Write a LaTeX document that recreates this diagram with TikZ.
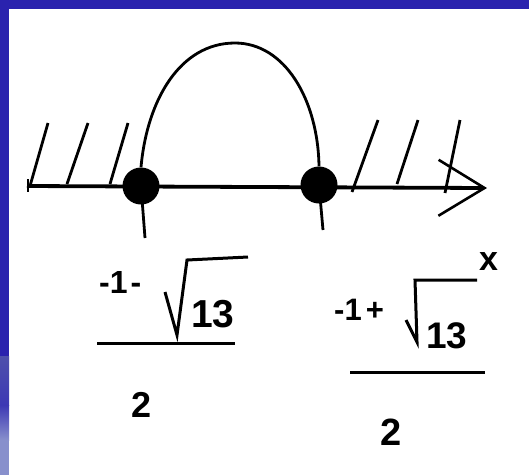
\documentclass[tikz,border=0pt]{standalone}
\usepackage{fontspec}
\setmainfont{Liberation Sans}
\usetikzlibrary{arrows.meta}
\definecolor{frameblue}{RGB}{42,34,174}
\definecolor{framelight}{RGB}{136,144,204}
\definecolor{framemid}{RGB}{78,80,172}
\newcommand{\fsz}[1]{\fontsize{#1}{#1}\selectfont\bfseries}
\tikzset{
	hatch/.style={line width=2.8pt},
	root/.style={circle, fill, inner sep=0pt, minimum size=37pt},
	numtext/.style={inner sep=0pt, anchor=base west},
}

\begin{document}
\begin{tikzpicture}[x=1pt, y=-1pt]
	\useasboundingbox (0,0) rectangle (529,475);
	\fill[white] (0,0) rectangle (529,475);
	\fill[frameblue] (0,0) rectangle (529,9);
	\fill[frameblue] (0,0) rectangle (9,356);
	\shade[top color=framemid, bottom color=frameblue!80!framelight] (0,356) rectangle (9,405);
	\shade[top color=frameblue!80!framelight, bottom color=framelight] (0,405) rectangle (9,440);
	\fill[framelight] (0,440) rectangle (9,475);
	% axis
	\coordinate (axstart) at (27,186);
	\coordinate (axend) at (487,188);
	\draw[line width=3.8pt, -{Straight Barb[line width=2.6pt, length=46pt, width=56pt]}] (axstart) -- (axend);
	\draw[line width=2.5pt] (28,179) -- (28,192);
	\foreach \xa/\ya/\xb/\yb in {30/186/48/123, 67/184/88/123, 110/184/128/123, 352/192/378/120, 397/184/418/120, 445/193/460/120}
		\draw[hatch] (\xa,\ya) -- (\xb,\yb);
	% roots
	\node[root] (lroot) at (141,186) {};
	\node[root] (rroot) at (319,185) {};
	\draw[line width=2.8pt] (lroot.center) -- (145,238);
	\draw[line width=2.8pt] (rroot.center) -- (323,230);
	\draw[line width=2.8pt] (lroot.north) .. controls (147,100) and (180,43) .. (235,43) .. controls (285,43) and (318,100) .. (rroot.north);
	% left fraction
	\node[numtext, font=\fsz{32}] (lnum) at (99,293) {-1\kern3pt-};
	\draw[line width=3pt] (165,292) -- (177,335) -- (187,260) -- (248,257);
	\node[numtext, font=\fsz{39}] (lrad) at (191,327) {13};
	\draw[line width=3pt] (97,343) -- (235,343);
	\node[numtext, font=\fsz{36}] (lden) at (131,417) {2};
	% right fraction
	\node[numtext, font=\fsz{31}] (rnum) at (334,320) {-1\kern4pt+};
	\draw[line width=3pt] (406,320) -- (417,342) -- (415,280) -- (477,280);
	\node[numtext, font=\fsz{37}] (rrad) at (426,348) {13};
	\draw[line width=3pt] (350,372) -- (485,372);
	\node[numtext, font=\fsz{38}] (rden) at (380,445) {2};
	\node[numtext, font=\fsz{34}] (xlabel) at (479,270) {x};
\end{tikzpicture}
\end{document}
